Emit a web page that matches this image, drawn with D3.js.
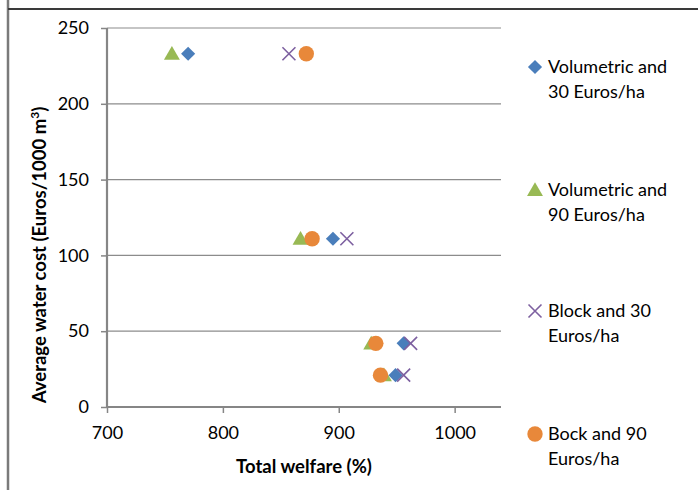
<!DOCTYPE html>
<html>
<head>
<meta charset="utf-8">
<script src="https://cdn.jsdelivr.net/npm/d3@7"></script>
<style>
  html, body { margin: 0; padding: 0; background: #fff; }
  svg { display: block; font-family: Lato, "Open Sans", sans-serif; }
</style>
</head>
<body>
<svg id="chart" width="698" height="490"></svg>
<script>
// Average water cost (Euros/1000 m3) against total welfare (%) for four pricing schemes
const costLevels = [233, 111, 42, 21];

const volumetric30 = [770, 895, 956, 949];
const volumetric90 = [756, 867, 928, 939];
const block30      = [857, 907, 962, 956];
const block90      = [872, 877, 932, 936];

const seriesNames = [
  ["Volumetric and", "30 Euros/ha"],
  ["Volumetric and", "90 Euros/ha"],
  ["Block and 30", "Euros/ha"],
  ["Bock and 90", "Euros/ha"]
];
const seriesColors = ["#4a7ebb", "#98b954", "#7d60a0", "#e8883a"];
const seriesShapes = ["diamond", "triangle", "cross", "circle"];

const xTicks = [700, 800, 900, 1000];
const yTicks = [0, 50, 100, 150, 200, 250];

const series = [volumetric30, volumetric90, block30, block90].map((vals, i) => ({
  name: seriesNames[i],
  color: seriesColors[i],
  shape: seriesShapes[i],
  points: vals.map((x, j) => ({ x, y: costLevels[j] }))
}));

const svg = d3.select("#chart");

// outer frame lines
svg.append("line").attr("x1", 8).attr("x2", 8).attr("y1", 0).attr("y2", 490)
  .attr("stroke", "#7a7a7a").attr("stroke-width", 2.5);
svg.append("line").attr("x1", 8).attr("x2", 698).attr("y1", 9).attr("y2", 9)
  .attr("stroke", "#3a3a3a").attr("stroke-width", 2);

const plot = { left: 107, right: 501, top: 28, bottom: 407 };

const x = d3.scaleLinear().domain([700, 1040]).range([plot.left, plot.right]);
const y = d3.scaleLinear().domain([0, 250]).range([plot.bottom, plot.top]);

// horizontal gridlines
svg.append("g")
  .selectAll("line")
  .data(yTicks.filter(t => t > 0))
  .join("line")
  .attr("x1", plot.left).attr("x2", plot.right)
  .attr("y1", d => y(d)).attr("y2", d => y(d))
  .attr("stroke", "#8c8c8c").attr("stroke-width", 1.2);

// y axis
const yAxis = svg.append("g")
  .attr("transform", `translate(${plot.left},0)`)
  .call(d3.axisLeft(y).tickValues(yTicks).tickFormat(d3.format("d")).tickSize(6).tickPadding(12));
// x axis
const xAxis = svg.append("g")
  .attr("transform", `translate(0,${plot.bottom})`)
  .call(d3.axisBottom(x).tickValues(xTicks).tickFormat(d3.format("d")).tickSize(6).tickPadding(13));

[yAxis, xAxis].forEach(g => {
  g.select(".domain").attr("stroke", "#868686").attr("stroke-width", 2.2);
  g.selectAll(".tick line").attr("stroke", "#868686").attr("stroke-width", 1.5);
  g.selectAll(".tick text").attr("fill", "#000").style("font-size", "18px")
    .style("font-family", "Lato, 'Open Sans', sans-serif");
});
xAxis.select(".domain").attr("d", `M${plot.left},0H${plot.right}`);
yAxis.select(".domain").attr("d", `M0,${plot.bottom}V${plot.top}`);

// axis titles
svg.append("text")
  .attr("x", 304).attr("y", 473)
  .attr("text-anchor", "middle")
  .style("font-size", "18.5px").style("font-weight", "bold")
  .text("Total welfare (%)");

const yTitle = svg.append("text")
  .attr("transform", "translate(46,255) rotate(-90)")
  .attr("text-anchor", "middle")
  .style("font-size", "18.5px").style("font-weight", "bold");
yTitle.append("tspan").text("Average water cost (Euros/1000 m");
yTitle.append("tspan").attr("dy", -7).style("font-size", "12px").text("3");
yTitle.append("tspan").attr("dy", 7).text(")");

// marker drawing
const symbolPath = {
  diamond: d3.symbol().type(d3.symbolSquare).size(100)(),
  triangle: d3.symbol().type(d3.symbolTriangle).size(110)(),
  circle: d3.symbol().type(d3.symbolCircle).size(185)(),
  cross: "M-6.5,-6.5L6.5,6.5M-6.5,6.5L6.5,-6.5"
};
function drawMarker(sel, shape, color) {
  const p = sel.append("path").attr("d", symbolPath[shape]);
  if (shape === "cross") {
    p.attr("fill", "none").attr("stroke", color).attr("stroke-width", 1.6);
  } else {
    p.attr("fill", color);
    if (shape === "diamond") p.attr("transform", "rotate(45)");
    if (shape === "triangle") p.attr("transform", "translate(0,1.5)");
  }
}

const marks = svg.append("g");
series.forEach(s => {
  s.points.forEach(pt => {
    const g = marks.append("g").attr("transform", `translate(${x(pt.x)},${y(pt.y)})`);
    drawMarker(g, s.shape, s.color);
  });
});

// legend
const legendRows = [67, 190, 311, 434];
const legend = svg.append("g");
series.forEach((s, i) => {
  const g = legend.append("g").attr("transform", `translate(535,${legendRows[i]})`);
  drawMarker(g, s.shape, s.color);
  s.name.forEach((line, k) => {
    g.append("text")
      .attr("x", 13).attr("y", k * 25 + 6)
      .style("font-size", "18px")
      .text(line);
  });
});
</script>
</body>
</html>
